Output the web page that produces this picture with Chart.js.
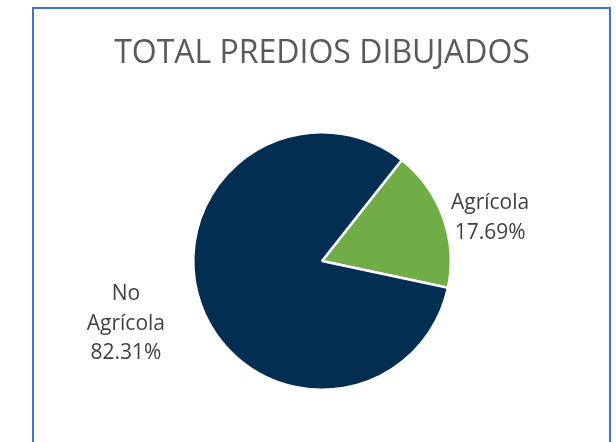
<!DOCTYPE html>
<html lang="es">
<head>
    <meta charset="UTF-8">
    <title>Total predios dibujados</title>
    <script src="https://cdn.jsdelivr.net/npm/chart.js"></script>
    <style>
        html, body { margin: 0; padding: 0; background: #fff; }
        #wrap { position: relative; width: 616px; height: 442px; overflow: hidden; }
        #marco {
            position: absolute; left: 32px; top: 7px; width: 579px; height: 460px;
            border: 2px solid #4472C4; box-sizing: border-box;
        }
        canvas { position: absolute; left: 0; top: 0; }
    </style>
</head>
<body>
    <div id="wrap">
        <div id="marco"></div>
        <canvas id="prediosChart" width="616" height="442"></canvas>
    </div>

    <script>
        // datos del grafico
        const categorias = ['Agrícola', 'No Agrícola'];
        const etiquetas = [['Agrícola', '17.69%'], ['No', 'Agrícola', '82.31%']];
        const porcentajes = [17.69, 82.31];
        const colores = ['#70AD47', '#022E52'];

        // desplazamiento de cada etiqueta respecto al borde exterior del sector
        const desplazamientos = [[47, 1], [-75, 19]];

        const etiquetasPlugin = {
            id: 'etiquetasSectores',
            afterDatasetsDraw(chart) {
                const ctx = chart.ctx;
                const meta = chart.getDatasetMeta(0);
                ctx.save();
                ctx.font = '21px "Open Sans"';
                ctx.fillStyle = '#404040';
                ctx.textAlign = 'center';
                ctx.textBaseline = 'middle';
                const alto = 29.5;
                meta.data.forEach((arc, i) => {
                    const p = arc.getProps(['x', 'y', 'startAngle', 'endAngle', 'outerRadius']);
                    const medio = (p.startAngle + p.endAngle) / 2;
                    const ax = p.x + Math.cos(medio) * p.outerRadius;
                    const ay = p.y + Math.sin(medio) * p.outerRadius;
                    const cx = ax + desplazamientos[i][0];
                    const cy = ay + desplazamientos[i][1];
                    const lineas = etiquetas[i];
                    lineas.forEach((t, j) => {
                        ctx.fillText(t, cx, cy + (j - (lineas.length - 1) / 2) * alto);
                    });
                });
                ctx.restore();
            }
        };

        const ctx = document.getElementById('prediosChart').getContext('2d');
        new Chart(ctx, {
            type: 'pie',
            data: {
                labels: categorias,
                datasets: [{
                    data: porcentajes,
                    backgroundColor: colores,
                    borderColor: '#ffffff',
                    borderWidth: 2.5
                }]
            },
            options: {
                responsive: false,
                animation: false,
                rotation: 38.3,
                layout: { padding: { left: 28, right: 0, top: 0, bottom: 51 } },
                plugins: {
                    legend: { display: false },
                    tooltip: { enabled: false },
                    title: {
                        display: true,
                        text: 'TOTAL PREDIOS DIBUJADOS',
                        color: '#595959',
                        font: { family: '"Open Sans"', size: 32, weight: 'normal', lineHeight: 1.2 },
                        padding: { top: 35, bottom: 57.6 }
                    }
                }
            },
            plugins: [etiquetasPlugin]
        });
    </script>
</body>
</html>
